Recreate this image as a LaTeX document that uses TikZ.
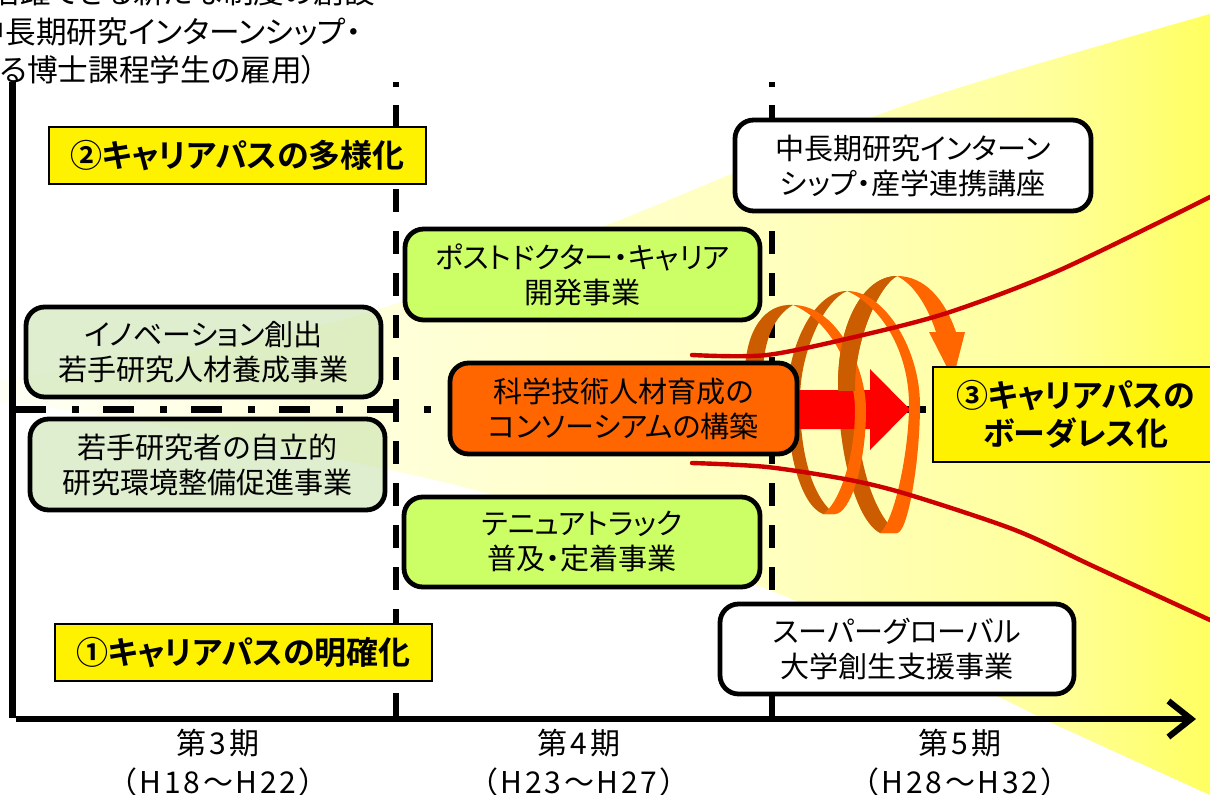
\documentclass[tikz,border=0pt]{standalone}
\usepackage{fontspec}
\usetikzlibrary{arrows.meta,calc}
\setmainfont{Noto Sans CJK JP}[RawFeature=+palt]
\newfontfamily\plainjp{Noto Sans CJK JP}[LetterSpace=9]
\newfontfamily\boldjp{Noto Sans CJK JP Bold}[RawFeature=+palt]

% Pale fan behind the programmes, getting stronger towards the right
\pgfdeclarehorizontalshading{fanfade}{100bp}{
  rgb(0bp)=(1,1,0.96); rgb(25bp)=(1,1,0.96); rgb(41.5bp)=(1,1,0.85);
  rgb(58bp)=(1,1,0.74); rgb(68.4bp)=(1,1,0.61); rgb(75bp)=(1,1,0.38); rgb(100bp)=(1,1,0.38)}

\definecolor{limefill}{HTML}{CCFF66}
\definecolor{palegreen}{HTML}{C8E4B0}
\definecolor{coreorange}{HTML}{FF6600}
\definecolor{darkorange}{HTML}{CC5C00}
\definecolor{curvered}{HTML}{CC0000}

\tikzset{
  bodytext/.style={font=\fontsize{21.8}{26.25}\selectfont, text=black},
  captext/.style={font=\fontsize{23}{26}\selectfont, text=black},
  progbox/.style={draw=black, line width=3.6pt, rounded corners=14pt, inner sep=0pt,
    align=center, bodytext},
  whitebox/.style={progbox, fill=white},
  limebox/.style={progbox, fill=limefill},
  fadedbox/.style={progbox, fill=palegreen, fill opacity=0.6, text opacity=1},
  corebox/.style={progbox, fill=coreorange},
  stagebox/.style={draw=black, line width=1.9pt, fill=yellow, inner sep=0pt, align=center,
    font=\boldjp\fontsize{24}{28.5}\selectfont},
  period/.style={font=\plainjp\fontsize{22.5}{26}\selectfont, text=black},
  axisline/.style={line width=5pt, black},
  stageline/.style={line width=4.5pt, black, dash pattern=on 17.25pt off 14.25pt},
  crossline/.style={line width=5.2pt, black, dash pattern=on 23.25pt off 19.5pt on 5.25pt off 18pt},
  arc light/.style={fill=coreorange},
  arc dark/.style={fill=darkorange},
  edge curve/.style={line width=3.3pt, curvered, line cap=round},
}

\begin{document}
\begin{tikzpicture}[x=0.75pt,y=-0.75pt]
\clip (0,0) rectangle (1210,795);
\fill[white] (0,0) rectangle (1210,795);

% background fan
\shade[shading=fanfade]
  plot[smooth] coordinates {(0,380) (183,353) (367,313) (607,225) (900,107) (1210,14)}
  -- plot[smooth] coordinates {(1210,795) (1052,723) (999,697) (777,593) (486,493) (200,432) (43,407) (0,402)}
  -- cycle;

% caption carried over from above
\node[captext, anchor=east] (capa) at (380,-8) {活躍できる新たな制度の創設};
\node[captext, anchor=east] (capb) at (366,32) {中長期研究インターンシップ・};
\node[captext, anchor=east] (capc) at (322,70) {る博士課程学生の雇用）};

% period boundaries and the time axes
\coordinate (vtop) at (12.5,82);
\coordinate (origin) at (12.5,718);
\coordinate (hstart) at (16,719);
\coordinate (hend) at (1196,719);
\coordinate (bAtop) at (395.5,82);   \coordinate (bAdot) at (395.5,87);
\coordinate (bAdash) at (395.5,105); \coordinate (bAend) at (395.5,717);
\coordinate (bBtop) at (771.5,82);   \coordinate (bBdot) at (771.5,87);
\coordinate (bBdash) at (771.5,105); \coordinate (bBend) at (771.5,717);
\coordinate (xstart) at (15,409.5);  \coordinate (xend) at (933,409.5);

\draw[crossline] (xstart) -- (xend);
\draw[line width=4.5pt] (bAtop) -- (bAdot);
\draw[line width=4.5pt] (bBtop) -- (bBdot);
\draw[stageline] (bAdash) -- (bAend);
\draw[stageline] (bBdash) -- (bBend);
\draw[line width=5.2pt] (vtop) -- (origin);
\draw[axisline, -{Straight Barb[length=17pt,width=27pt,line width=4.6pt]}] (hstart) -- (hend);

% spiral, back part
\def\outerarc{(880,533) .. controls (855,520) and (838,450) .. (838,385)
  .. controls (838,320) and (865,276) .. (897,276)
  .. controls (880,285) and (856,335) .. (855,385)
  .. controls (855,450) and (870,510) .. (897,533) -- cycle}
\fill[arc dark] (793,305) .. controls (765,303) and (745,330) .. (745,375)
  -- (763,375) .. controls (763,340) and (775,315) .. (793,305) -- cycle;
\fill[arc dark] \outerarc;
\fill[arc dark] (823,514) .. controls (800,505) and (787,450) .. (787,400)
  .. controls (787,345) and (815,291) .. (847,291)
  .. controls (825,300) and (800,350) .. (800,400)
  .. controls (800,460) and (815,500) .. (835,514) -- cycle;

% red arrow from the consortium towards the third stage
\coordinate (rs) at (790,409.5);
\fill[red] (rs |- 0,390) -- (870,390) -- (870,369) -- (910,409.5) -- (870,450) -- (870,429) -- (rs |- 0,429) -- cycle;

% spiral, front part
\fill[arc light] (793,305) .. controls (835,305) and (866,365) .. (866,410)
  .. controls (866,465) and (850,514) .. (835,514) -- (823,514)
  .. controls (838,505) and (855,460) .. (855,410)
  .. controls (855,370) and (830,320) .. (793,305) -- cycle;
\begin{scope}
  \clip (830,270) rectangle (900,390);
  \fill[arc dark] \outerarc;
\end{scope}
\fill[arc light] (847,291) .. controls (885,291) and (920,350) .. (920,405)
  .. controls (920,460) and (908,533) .. (897,533) -- (880,533)
  .. controls (895,520) and (909,450) .. (909,405)
  .. controls (909,350) and (880,305) .. (847,291) -- cycle;
\fill[arc light] (897,276) .. controls (925,276) and (945,300) .. (956,332)
  -- (965,332) -- (953,379) -- (929,332) -- (936,332)
  .. controls (928,308) and (915,285) .. (897,276) -- cycle;

% widening curves of the fan
\draw[edge curve] plot[smooth] coordinates {(692,355) (767,355) (863,335) (950,312) (1060,270) (1210,197)};
\draw[edge curve] plot[smooth] coordinates {(692,463) (767,467) (850,480) (910,495) (1015,530) (1095,567) (1210,620)};

% programmes
\node[fadedbox, minimum width=355*0.75pt, minimum height=90*0.75pt] (innov) at (203.5,352)
  {イノベーション創出\\若手研究人材養成事業};
\node[fadedbox, minimum width=355*0.75pt, minimum height=91*0.75pt] (indep) at (207.5,464.5)
  {若手研究者の自立的\\研究環境整備促進事業};
\node[limebox, minimum width=355*0.75pt, minimum height=91*0.75pt] (postdoc) at (582.5,274.5)
  {ポストドクター・キャリア\\開発事業};
\node[limebox, minimum width=356*0.75pt, minimum height=90*0.75pt] (tenure) at (582,542)
  {テニュアトラック\\普及・定着事業};
\node[corebox, minimum width=347*0.75pt, minimum height=91*0.75pt] (consort) at (623.5,408.5)
  {科学技術人材育成の\\コンソーシアムの構築};
\node[whitebox, minimum width=356*0.75pt, minimum height=91*0.75pt] (intern) at (913,165.5)
  {中長期研究インターン\\シップ・産学連携講座};
\node[whitebox, minimum width=354*0.75pt, minimum height=90*0.75pt] (global) at (897,649)
  {スーパーグローバル\\大学創生支援事業};

% stages
\node[stagebox, minimum width=377*0.75pt, minimum height=57*0.75pt] (stageb) at (237.5,155.5) {②キャリアパスの多様化};
\node[stagebox, minimum width=377*0.75pt, minimum height=57*0.75pt] (stagea) at (243.5,652.5) {①キャリアパスの明確化};
\node[stagebox, minimum width=285*0.75pt, minimum height=95*0.75pt] (stagec) at (1075.5,414.5) {③キャリアパスの\\ボーダレス化};

% periods
\node[period] (p3) at (218,743) {第3期};
\node[period] (p3y) at (218,782) {（H18～H22）};
\node[period] (p4) at (579,743) {第4期};
\node[period] (p4y) at (579,782) {（H23～H27）};
\node[period] (p5) at (960,743) {第5期};
\node[period] (p5y) at (960,782) {（H28～H32）};
\end{tikzpicture}
\end{document}
